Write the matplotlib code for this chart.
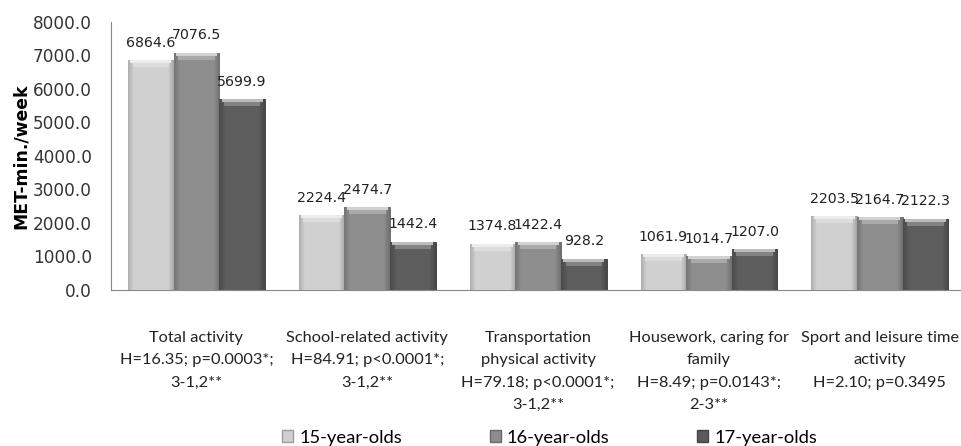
import matplotlib
matplotlib.use("Agg")
import matplotlib.pyplot as plt
import numpy as np
from matplotlib.patches import Patch

categories = [
    "Total activity\nH=16.35; p=0.0003*;\n3-1,2**",
    "School-related activity\nH=84.91; p<0.0001*;\n3-1,2**",
    "Transportation\nphysical activity\nH=79.18; p<0.0001*;\n3-1,2**",
    "Housework, caring for\nfamily\nH=8.49; p=0.0143*;\n2-3**",
    "Sport and leisure time\nactivity\nH=2.10; p=0.3495",
]
series_names = ["15-year-olds", "16-year-olds", "17-year-olds"]
age15 = [6864.6, 2224.4, 1374.8, 1061.9, 2203.5]
age16 = [7076.5, 2474.7, 1422.4, 1014.7, 2164.7]
age17 = [5699.9, 1442.4, 928.2, 1207.0, 2122.3]
yticks = [0, 1000, 2000, 3000, 4000, 5000, 6000, 7000, 8000]

colors = ["#d0d0d0", "#8c8c8c", "#5a5a5a"]

plt.rcParams['font.family'] = ['DejaVu Sans']
fig = plt.figure(figsize=(9.61, 4.46), dpi=100)
ax = fig.add_axes([0.1155, 0.35, 0.889, 0.601])

x = np.arange(len(categories))
w = 0.267
series = [age15, age16, age17]
unit_per_px = 8000 / (0.601 * 446)


def shade(c, f):
    c = np.array(matplotlib.colors.to_rgb(c))
    if f > 0:
        return c + (1 - c) * f
    return c * (1 + f)


for i, (vals, col) in enumerate(zip(series, colors)):
    pos = x + (i - 1) * w
    bars = ax.bar(pos, vals, width=w, color=col, edgecolor=shade(col, -0.22),
                  linewidth=0.7, label=series_names[i], zorder=2)
    for b, v in zip(bars, vals):
        x0, y0 = b.get_x(), b.get_y()
        bw, bh = b.get_width(), b.get_height()
        g = np.linspace(0, 1, 80)
        prof = np.where(g < 0.12, -0.16 + 0.16 * g / 0.12,
                        np.where(g > 0.88, -0.2 * (g - 0.88) / 0.12, 0.02))
        rgb = np.array([shade(col, p) for p in prof])[None, :, :]
        im = ax.imshow(np.clip(rgb, 0, 1), extent=[x0, x0 + bw, y0, y0 + bh],
                       aspect='auto', zorder=3, interpolation='bilinear')
        im.set_clip_path(b)
        # bevelled top
        t1 = 3 * unit_per_px
        t2 = 7 * unit_per_px
        ax.fill_between([x0 + bw * 0.1, x0 + bw * 0.9], y0 + bh - t2, y0 + bh - t1,
                        color=shade(col, 0.25), zorder=4, linewidth=0)
        ax.fill_between([x0 + bw * 0.05, x0 + bw * 0.95], y0 + bh - t1, y0 + bh,
                        color=shade(col, 0.6), zorder=4, linewidth=0)
        ax.annotate(f"{v:.1f}", (x0 + bw / 2, y0 + bh), xytext=(0, 12.5),
                    textcoords='offset points', ha='center', va='center',
                    fontsize=10.2, color='#222222', zorder=5)

ax.set_xlim(-0.5, 4.5)
ax.set_ylim(0, 8000)
ax.set_yticks(yticks)
ax.set_yticklabels([f"{t:.1f}" for t in yticks], fontsize=12.2, color='#333333')
ax.set_xticks(x)
ax.set_xticklabels(categories, family=['Lato', 'DejaVu Sans'], fontsize=11.8,
                   linespacing=1.76, va='top', color='#222222')
ax.tick_params(axis='both', length=0)
ax.tick_params(axis='x', pad=29.5)
ax.tick_params(axis='y', pad=13.5)
for s in ['top', 'right']:
    ax.spines[s].set_visible(False)
ax.spines['left'].set_color('#888888')
ax.spines['bottom'].set_color('#888888')
ax.set_ylabel("MET-min./week", fontsize=12.4, fontweight='bold', labelpad=2)

handles = [Patch(facecolor=c, edgecolor=shade(c, -0.25)) for c in colors]
fig.legend(handles, series_names, loc='center', bbox_to_anchor=(0.572, 0.019),
           ncol=3, frameon=False, handlelength=0.6, handleheight=0.6,
           handletextpad=0.35, columnspacing=4.75,
           prop={'family': ['Lato', 'DejaVu Sans'], 'size': 13.2})

fig.savefig("out.png", dpi=100)
